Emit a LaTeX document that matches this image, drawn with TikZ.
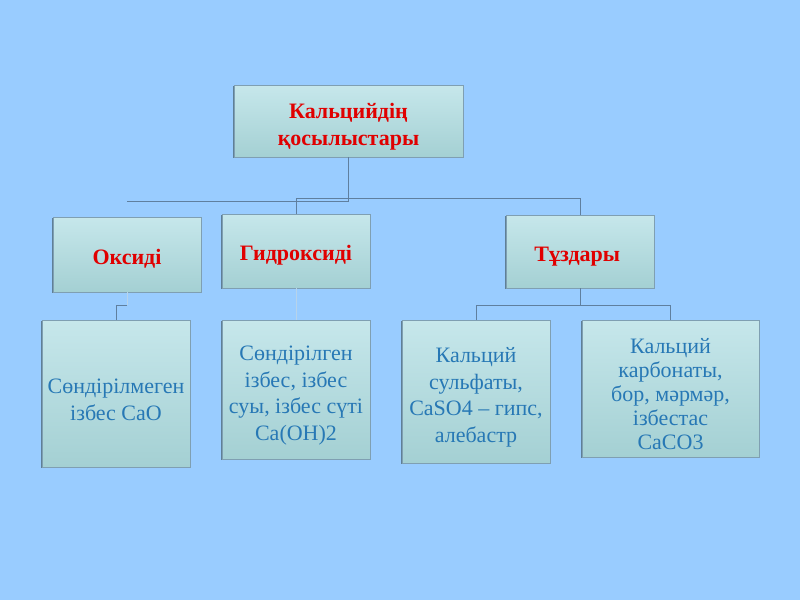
\documentclass[tikz,border=0pt]{standalone}
\usepackage{fontspec}
\setmainfont{Liberation Serif}
\usetikzlibrary{shadows}
\definecolor{slidebg}{HTML}{99CCFF}
\definecolor{boxtop}{HTML}{C6E7EB}
\definecolor{boxbottom}{HTML}{A4D0D3}
\definecolor{boxedge}{HTML}{7F9FB2}
\definecolor{boxshade}{HTML}{5F7F96}
\definecolor{headred}{HTML}{E00000}
\definecolor{itemblue}{HTML}{2778B5}
\definecolor{linkline}{HTML}{5F7F9F}
\definecolor{linkfaint}{HTML}{B7D3EA}
\tikzset{
  chartbox/.style={rectangle, top color=boxtop, bottom color=boxbottom, draw=boxedge,
    line width=.6pt, align=center, inner sep=0pt,
    execute at begin node={\rule{0pt}{24pt}},
    general shadow={shadow xshift=-1.3pt, shadow yshift=-1.3pt, fill=boxshade}},
  headbox/.style={chartbox, text=headred, font=\bfseries\fontsize{22}{27}\selectfont},
  itembox/.style={chartbox, text=itemblue, font=\fontsize{22}{26.5}\selectfont},
  link/.style={draw=linkline, line width=.9pt}
}
\newcommand*{\FirstLine}{\rule{0pt}{27pt}}% pushes multi-line text a bit down
\newcommand*{\HeadBoxes}[1]{% #1 = list of name/x/y/w/h/label
  \foreach \bname/\bx/\by/\bw/\bh/\blabel in {#1} {
    \node [headbox, minimum width=\bw pt, minimum height=\bh pt] (\bname) at (\bx,\by) {\blabel};
    }%
}

\begin{document}
\begin{tikzpicture}[x=1pt, y=-1pt]
    \fill[slidebg] (0,0) rectangle (800,600);
    \useasboundingbox (0,0) rectangle (800,600);

    \HeadBoxes{
        top/348.5/121/229/72/{\FirstLine Кальцийдің\\қосылыстары},
        ox/127/254.5/148/75/{Оксиді},
        gd/296/251/148/74/{Гидроксиді},
        tz/580/251.5/148/73/{Тұздары}
    }

    \node [itembox, minimum width=148pt, minimum height=147pt] (b1) at (116,393.5)
        {\FirstLine Сөндірілмеген\\ізбес CaO};
    \node [itembox, minimum width=148pt, minimum height=139pt] (b2) at (296,389.5)
        {\FirstLine Сөндірілген\\ізбес, ізбес\\суы, ізбес сүті\\Ca(OH)2};
    \node [itembox, minimum width=148pt, minimum height=143pt] (b3) at (476,391.5)
        {\FirstLine Кальций\\сульфаты,\\CaSO4 -- гипс,\\алебастр};
    \node [itembox, minimum width=177pt, minimum height=137pt,
        font=\fontsize{22}{24}\selectfont] (b4) at (670.5,388.5)
        {\FirstLine Кальций\\карбонаты,\\бор, мәрмәр,\\ізбестас\\CaCO3};

    % connectors
    \draw[link] (top.south) -- ++(0,44) coordinate (jtop) -- (jtop -| ox.north);
    \draw[link] (gd.north) -- ++(0,-15) -| (tz.north);
    \draw[link, draw=linkfaint] (ox.south) -- ++(0,13) coordinate (jox);
    \draw[link] (jox) -| (b1.north);
    \draw[link, draw=linkfaint] (gd.south) -- (b2.north);
    \draw[link] (tz.south) -- ++(0,17) coordinate (jtz);
    \draw[link] (b3.north) |- (jtz) -| (b4.north);
\end{tikzpicture}
\end{document}
